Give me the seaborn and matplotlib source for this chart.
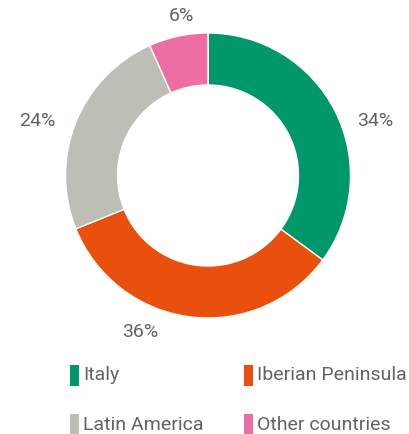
import matplotlib.pyplot as plt
import seaborn as sns
from matplotlib.patches import Rectangle

sns.set_theme(style="white")
plt.rcParams['font.family'] = ['Roboto', 'DejaVu Sans']

# data
regions = ["Italy", "Iberian Peninsula", "Latin America", "Other countries"]
shares = [35.1, 33.8, 24.4, 6.7]          # wedge sizes as drawn
share_labels = ["34%", "36%", "24%", "6%"]  # printed labels
colors = ["#00976A", "#E9500E", "#BDBEB6", "#EC6EA3"]

# layout (pixel coordinates, y from top)
W, H = 409, 434
center = (208, 175.5)
radius = 142.5
ring = 52
label_pos = [(375, 121), (140, 332), (37, 121), (181, 16)]
legend_pos = [(70, 365), (244, 365), (70, 414), (244, 414)]
text_col = "#636363"

fig = plt.figure(figsize=(W / 100, H / 100), dpi=100)
ax = fig.add_axes([0, 0, 1, 1])

ax.pie(shares, colors=colors, startangle=90, counterclock=False,
       center=(center[0], H - center[1]), radius=radius,
       wedgeprops=dict(width=ring, edgecolor="white", linewidth=1))

# pie resets the limits, so set them afterwards
ax.set_xlim(0, W)
ax.set_ylim(0, H)
ax.set_aspect("equal")
ax.axis("off")

for lab, (x, y) in zip(share_labels, label_pos):
    ax.text(x, H - y, lab, ha="center", va="center",
            fontsize=14, color=text_col)

for name, c, (x, y) in zip(regions, colors, legend_pos):
    ax.add_patch(Rectangle((x, H - y - 21), 9, 21, color=c, lw=0))
    ax.text(x + 13, H - y - 10.5, name, ha="left", va="center",
            fontsize=14, color=text_col)

fig.savefig("out.png", dpi=100)
